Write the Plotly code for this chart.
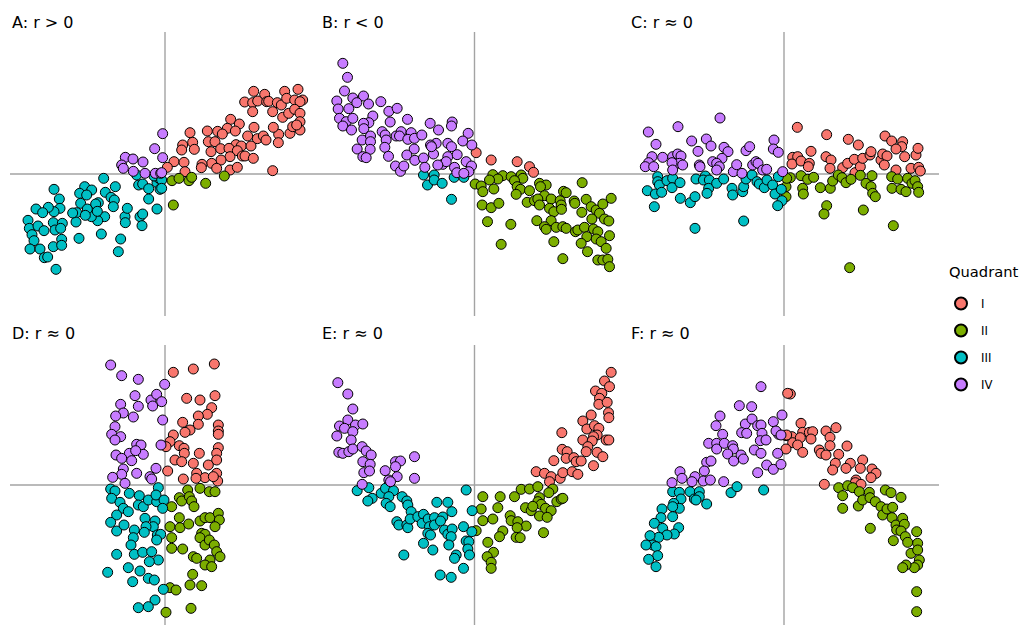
import plotly.graph_objects as go

W, H = 1026, 625

# ---- data: (x, y) values per panel, centred on the panel means ----
A_pts = [
    (266,248),(299,239),(359,248),(399,254),(239,216),(263,214),(278,219),(305,217),(311,218),(337,214),
    (349,207),(365,227),(389,222),(413,222),(405,217),(263,187),(323,187),(353,170),(371,182),(389,194),
    (405,182),(405,157),(405,132),(375,122),(383,142),(395,147),(341,119),(325,140),(340,94),(197,164),
    (223,150),(187,137),(127,129),(158,128),(75,124),(172,120),(211,129),(267,140),(248,114),(277,106),
    (295,114),(303,102),(130,97),(150,97),(213,88),(229,84),(258,84),(83,95),(53,87),(88,74),(50,72),
    (138,67),(167,76),(192,77),(217,70),(232,54),(240,54),(265,47),(195,52),(168,42),(140,32),(111,29),
    (109,19),(155,17),(195,12),(217,20),(27,37),(57,35),(7,20),(60,7),(323,10),
    (21,-20),(42,-13),(72,-20),(80,-10),(122,-28),(178,-6),(25,-93),
    (-184,-13),(-333,-46),(-241,-38),(-220,-48),(-256,-58),(-149,-38),(-179,-55),(-79,-33),(-67,-30),
    (-49,-44),(-24,-26),(-15,-46),(-18,-13),(-33,-6),(-85,-3),(-49,-75),(-24,-105),(-75,-128),(-67,-120),
    (-69,-155),(-120,-128),(-119,-146),(-113,-103),(-162,-70),(-152,-78),(-155,-98),(-181,-128),
    (-202,-140),(-200,-86),(-229,-108),(-221,-128),(-253,-88),(-265,-116),(-267,-144),(-277,-117),
    (-258,-193),(-191,-180),(-133,-195),(-140,-233),(-233,-105),(-239,-124),(-317,-75),(-315,-103),
    (-333,-113),(-350,-100),(-387,-105),(-367,-116),(-411,-139),(-407,-163),(-381,-156),(-335,-146),
    (-330,-168),(-308,-148),(-313,-163),(-363,-170),(-399,-182),(-393,-200),(-405,-225),(-375,-225),
    (-335,-218),(-310,-196),(-310,-214),(-362,-251),(-352,-249),(-327,-286),(-208,-90),(-203,-112),
    (-235,-63),(-10,-18),(-10,-43),
    (-7,121),(-31,76),(-7,49),(-119,50),(-96,45),(-66,36),(-130,27),(-125,17),(-95,8),(-60,2),
    (-29,2),(-13,2),(-10,4),
]

B_pts = [
    (5,64),(50,42),(128,37),(165,22),(177,5),
    (55,-2),(85,-5),(110,-8),(140,-3),(145,-13),(120,-20),(70,-15),(45,-18),(2,-30),(20,-36),(25,-53),
    (58,-45),(128,-38),(138,-46),(165,-50),(125,-61),(158,-85),(180,-80),(195,-28),(215,-33),(198,-38),
    (210,-65),(190,-75),(195,-93),(230,-75),(225,-103),(238,-113),(257,-80),(260,-93),(261,-106),
    (267,-52),(275,-56),(299,-81),(301,-88),(323,-26),(335,-76),(350,-98),(365,-108),(375,-118),
    (385,-90),(410,-73),(322,-115),(352,-135),(390,-135),(403,-141),(23,-93),(50,-101),(73,-88),
    (39,-143),(109,-151),(187,-140),(230,-140),(210,-158),(215,-166),(245,-160),(265,-158),(275,-163),
    (303,-173),(310,-168),(330,-160),(357,-165),(370,-173),(337,-188),(365,-195),(380,-203),(405,-185),
    (395,-223),(238,-203),(320,-208),(339,-233),(80,-211),(265,-254),(370,-258),(385,-258),(400,-256),
    (405,-278),
    (-153,-3),(-121,-3),(-141,-33),(-121,-18),(-97,-28),(-61,-10),(-32,-10),(-69,-76),
    (-395,332),(-381,290),(-390,249),(-413,219),(-365,228),(-333,234),(-318,210),(-353,214),(-377,196),
    (-409,195),(-405,167),(-385,157),(-365,167),(-395,144),(-369,132),(-305,174),(-317,154),(-333,152),
    (-332,136),(-281,217),(-257,188),(-232,197),(-253,156),(-201,164),(-337,102),(-312,114),(-312,97),
    (-313,74),(-352,75),(-335,52),(-325,49),(-277,127),(-268,117),(-265,102),(-235,114),(-220,127),
    (-225,114),(-190,124),(-200,104),(-180,107),(-158,117),(-133,152),(-108,132),(-67,156),(-69,144),
    (-19,122),(-35,99),(-8,87),(-80,92),(-69,82),(-115,92),(-132,87),(-123,60),(-129,82),(-181,75),
    (-203,57),(-179,41),(-153,48),(-149,20),(-269,80),(-258,53),(-237,24),(-222,8),(-212,24),(-95,29),
    (-80,52),(-52,58),(-60,20),(-53,4),(-25,37),(-9,24),(-17,7),(-32,2),(-85,37),(-110,27),
]

C_pts = [
    (40,140),(128,118),(193,104),(223,87),(303,114),(323,99),(356,97),(353,82),(336,75),(362,52),
    (396,57),(402,77),(81,68),(126,52),(141,42),(26,50),(41,52),(24,30),(51,39),(76,32),(73,22),
    (138,17),(176,19),(191,32),(211,44),(213,4),(229,22),(236,47),(258,57),(261,67),(291,42),(296,60),
    (309,54),(301,27),(336,12),(381,17),(404,20),(409,9),
    (19,-11),(51,-5),(56,-43),(58,-60),(71,-16),(89,-10),(6,-38),(6,-68),(109,-41),(139,-43),(146,-21),
    (163,-3),(174,-11),(186,-26),(201,-16),(229,-4),(246,-28),(264,-5),(261,-38),(266,-58),(274,-68),
    (128,-95),(120,-120),(238,-108),(328,-155),(197,-281),(323,-8),(324,-43),(341,-15),(351,-46),
    (366,-53),(371,-13),(384,-28),(393,-20),(401,-38),(404,-55),(8,-13),
    (-379,-8),(-379,-23),(-374,-33),(-351,-20),(-334,-13),(-336,-41),(-312,-26),(-410,-50),(-386,-60),
    (-367,-55),(-389,-98),(-311,-73),(-281,-86),(-267,-68),(-267,-163),(-264,-15),(-236,-6),(-242,-18),
    (-224,-18),(-226,-43),(-231,-58),(-202,-28),(-181,-15),(-156,-43),(-154,-63),(-124,-53),(-121,-38),
    (-121,-141),(-114,-15),(-96,-3),(-81,-23),(-74,-30),(-59,-41),(-51,-18),(-34,-33),(-27,-60),
    (-17,-8),(-8,-46),(-6,-80),(-19,-95),
    (-407,126),(-318,142),(-192,168),(-384,89),(-277,99),(-233,105),(-219,84),(-258,68),(-180,80),
    (-168,67),(-186,47),(-114,70),(-103,82),(-30,102),(-32,75),(-17,65),(-396,52),(-364,50),(-406,34),
    (-416,22),(-391,22),(-334,52),(-319,60),(-309,54),(-314,32),(-304,27),(-336,34),(-334,12),(-254,27),
    (-252,22),(-214,37),(-202,32),(-194,22),(-202,12),(-152,7),(-142,28),(-126,2),(-94,27),(-84,37),
    (-78,32),(-64,12),(-52,14),(-4,7),
]

D_pts = [
    (25,338),(85,348),(148,363),(65,260),(105,255),(150,268),(140,232),(127,212),(100,207),(100,182),
    (75,165),(60,158),(53,188),(160,180),(160,162),(160,152),(25,150),(15,130),(3,115),(43,118),
    (57,110),(58,95),(30,75),(50,70),(103,95),(160,112),(155,95),(155,75),(130,60),(85,65),(95,35),
    (120,22),(155,35),(158,12),(145,25),(93,20),(55,18),(8,42),
    (20,-65),(43,-38),(50,-48),(68,-15),(73,-35),(80,-48),(87,-65),(105,-10),(133,-20),(150,-20),
    (15,-125),(43,-98),(45,-128),(71,-117),(105,-108),(120,-98),(135,-98),(160,-85),(163,-105),
    (150,-125),(110,-145),(120,-148),(105,-158),(120,-180),(133,-165),(148,-180),(155,-200),(165,-215),
    (135,-225),(120,-240),(140,-245),(85,-215),(95,-220),(20,-158),(20,-190),(53,-192),(83,-268),
    (75,-300),(110,-302),(15,-308),(33,-315),(3,-382),(78,-370),
    (-163,-12),(-150,-18),(-160,-40),(-135,-52),(-125,-70),(-107,-25),(-77,-32),(-80,-60),(-65,-65),
    (-50,-45),(-25,-50),(-20,-8),(-27,-30),(-3,-45),(-7,-70),(-145,-90),(-163,-112),(-145,-138),
    (-123,-120),(-110,-80),(-60,-100),(-30,-108),(-35,-125),(-57,-125),(-62,-142),(-92,-135),(-95,-158),
    (-102,-180),(-23,-150),(-13,-148),(-25,-165),(-145,-208),(-92,-208),(-67,-202),(-40,-200),
    (-20,-225),(-47,-230),(-75,-258),(-110,-248),(-97,-290),(-172,-262),(-50,-280),(-32,-285),
    (-5,-313),(-30,-345),(-50,-365),(-80,-368),
    (-163,360),(-130,328),(-80,317),(-1,302),(-90,268),(-42,255),(-25,272),(-10,250),(-37,237),
    (-133,242),(-80,236),(-125,216),(-148,207),(-95,204),(-7,195),(-150,175),(-160,152),(-133,145),
    (-150,135),(-85,122),(-72,120),(-65,92),(-12,120),(-147,90),(-107,95),(-130,80),(-100,73),(-88,103),
    (-27,50),(-125,48),(-130,32),(-85,35),(-120,5),(-157,23),(-45,25),(-40,18),
]

E_pts = [
    (410,338),(390,312),(405,295),(363,282),(382,275),(375,260),(373,242),(398,248),(402,217),(403,202),
    (350,210),(325,192),(337,168),(360,178),(373,170),(368,150),(357,145),(395,135),(403,135),(325,135),
    (353,132),(340,115),(335,100),(368,98),(385,85),(262,157),(263,107),(278,100),(275,80),(298,82),
    (305,70),(320,72),(238,73),(357,58),(185,40),(210,35),(230,25),(225,10),(257,20),(265,37),(293,40),
    (310,32),
    (25,-35),(77,-35),(120,-35),(140,-13),(165,-12),(190,-5),(235,-12),(223,-23),(195,-38),(190,-50),
    (200,-58),(213,-70),(230,-77),(247,-50),(260,-42),(265,-40),(20,-72),(70,-68),(153,-68),(170,-77),
    (175,-64),(25,-107),(55,-102),(107,-92),(110,-107),(130,-110),(155,-123),(128,-128),(195,-93),
    (218,-97),(5,-137),(85,-138),(75,-155),(125,-157),(137,-158),(207,-143),(40,-172),(57,-202),
    (38,-215),(50,-232),(50,-250),
    (-352,-17),(-317,-8),(-307,-40),(-320,-48),(-280,-25),(-267,-10),(-243,-17),(-257,-35),(-265,-55),
    (-253,-65),(-217,-35),(-203,-48),(-200,-60),(-190,-80),(-233,-110),(-227,-120),(-203,-120),
    (-200,-128),(-193,-102),(-170,-95),(-153,-88),(-157,-115),(-139,-102),(-120,-98),(-95,-96),
    (-113,-52),(-80,-52),(-68,-80),(-135,-125),(-120,-120),(-102,-108),(-140,-145),(-132,-150),
    (-153,-175),(-125,-195),(-90,-135),(-80,-148),(-67,-132),(-70,-155),(-77,-180),(-33,-125),
    (-25,-168),(-17,-170),(-20,-192),(-15,-210),(-55,-210),(-60,-220),(-33,-250),(-103,-270),
    (-70,-277),(-212,-210),(-25,-15),(-7,-77),(-8,-140),
    (-410,307),(-380,273),(-365,228),(-380,195),(-405,177),(-390,170),(-357,180),(-335,183),(-365,160),
    (-413,147),(-370,135),(-407,98),(-395,95),(-377,100),(-365,108),(-337,115),(-325,102),(-310,90),
    (-335,70),(-313,62),(-332,37),(-315,42),(-268,43),(-237,70),(-222,72),(-237,55),(-232,25),
    (-257,15),(-252,10),(-180,85),(-180,20),(-337,2),
]

F_pts = [
    (19,273),(51,185),(56,158),(76,158),(86,160),(126,162),(156,172),(138,143),(138,118),(24,145),
    (6,148),(26,127),(49,142),(81,138),(41,120),(56,98),(6,108),(106,105),(111,95),(126,90),(164,92),
    (189,117),(199,65),(186,50),(154,65),(146,45),(236,75),(229,50),(264,48),(276,35),(261,22),(216,15),
    (214,7),(231,2),(121,2),(11,275),(8,150),
    (164,-8),(191,-2),(206,-8),(226,-20),(256,-22),(176,-32),(176,-70),(223,-63),(236,-45),(258,-38),
    (274,-50),(304,-15),(321,-23),(351,-37),(291,-65),(296,-90),(309,-72),(326,-67),(324,-98),
    (259,-130),(336,-120),(356,-100),(361,-118),(338,-135),(351,-138),(364,-155),(398,-140),(328,-167),
    (371,-172),(401,-175),(381,-205),(401,-195),(406,-225),(401,-240),(391,-248),(366,-240),(356,-248),
    (398,-320),(398,-380),
    (-159,-23),(-141,-5),(-61,-15),(-334,-20),(-314,-22),(-309,-42),(-331,-55),(-314,-70),(-282,-20),
    (-269,-42),(-254,-20),(-254,-35),(-232,-57),(-264,-45),(-366,-72),(-369,-98),(-334,-65),(-334,-95),
    (-389,-115),(-364,-130),(-316,-128),(-329,-147),(-351,-150),(-376,-157),(-402,-152),(-394,-180),
    (-414,-180),(-384,-185),(-379,-212),(-406,-223),(-384,-245),
    (-69,295),(-134,238),(-97,235),(-192,207),(-204,178),(-184,152),(-226,125),(-202,125),(-202,108),
    (-179,125),(-154,118),(-152,108),(-169,93),(-151,72),(-129,90),(-122,78),(-116,183),(-127,157),
    (-112,155),(-96,198),(-79,178),(-69,180),(-66,155),(-71,133),(-54,135),(-32,190),(-16,152),
    (-6,210),(-24,162),(-89,105),(-69,95),(-19,95),(-52,60),(-32,47),(-9,62),(-79,37),(-181,10),
    (-232,68),(-219,72),(-239,42),(-312,40),(-306,20),(-267,25),(-276,10),(-242,12),(-221,15),
    (-336,7),(-9,150),
]

titles = ["A: r > 0", "B: r < 0", "C: r \u2248 0", "D: r \u2248 0", "E: r \u2248 0", "F: r \u2248 0"]
panels = [A_pts, B_pts, C_pts, D_pts, E_pts, F_pts]
quadrants = ["I", "II", "III", "IV"]
quad_colors = {"I": "#F8766D", "II": "#7CAE00", "III": "#00BFC4", "IV": "#C77CFF"}
legend_title = "Quadrant"

# ---- layout geometry (pixels) ----
col_px = [(10, 320), (320, 629), (629, 939)]
row_px = [(32, 316), (345, 625)]
title_cy = [22, 333]
UNIT = 3.0  # data units per pixel

FONT = "DejaVu Sans, Verdana, sans-serif"


def quadrant(x, y):
    if x >= 0 and y >= 0:
        return "I"
    if x >= 0:
        return "II"
    if y < 0:
        return "III"
    return "IV"


fig = go.Figure()
layout_axes = {}
shapes = []
annotations = []

for i, (pts, title) in enumerate(zip(panels, titles)):
    r, c = divmod(i, 3)
    k = "" if i == 0 else str(i + 1)
    x0, x1 = col_px[c]
    y0, y1 = row_px[r]
    hx = (x1 - x0) / 2 * UNIT
    hy = (y1 - y0) / 2 * UNIT
    layout_axes["xaxis" + k] = dict(domain=[x0 / W, x1 / W], range=[-hx, hx], visible=False,
                                    fixedrange=True, anchor="y" + k)
    layout_axes["yaxis" + k] = dict(domain=[1 - y1 / H, 1 - y0 / H], range=[-hy, hy], visible=False,
                                    fixedrange=True, anchor="x" + k)
    shapes.append(dict(type="line", xref="x" + k, yref="y" + k + " domain", x0=0, x1=0, y0=0, y1=1,
                       line=dict(color="#A3A3A3", width=1.4), layer="below"))
    shapes.append(dict(type="line", xref="x" + k + " domain", yref="y" + k, x0=0, x1=1, y0=0, y1=0,
                       line=dict(color="#A3A3A3", width=1.4), layer="below"))
    annotations.append(dict(text=title, xref="paper", yref="paper", x=x0 / W, y=1 - title_cy[r] / H,
                            xanchor="left", yanchor="middle", showarrow=False,
                            font=dict(family=FONT, size=16, color="black")))
    for q in quadrants:
        sel = [(x, y) for x, y in pts if quadrant(x, y) == q]
        fig.add_trace(go.Scatter(
            x=[p[0] for p in sel], y=[p[1] for p in sel], mode="markers",
            marker=dict(size=10, color=quad_colors[q], line=dict(color="black", width=1)),
            name=q, legendgroup=q, showlegend=(i == 0),
            xaxis="x" + k, yaxis="y" + k, hoverinfo="skip"))

annotations.append(dict(text=legend_title, xref="paper", yref="paper", x=947 / W, y=1 - 271 / H,
                        xanchor="left", yanchor="middle", showarrow=False,
                        font=dict(family=FONT, size=14.7, color="black")))

fig.update_layout(
    width=W, height=H,
    margin=dict(l=0, r=0, t=0, b=0),
    paper_bgcolor="white", plot_bgcolor="white",
    shapes=shapes, annotations=annotations,
    font=dict(family=FONT, color="black"),
    legend=dict(font=dict(size=11.7, family=FONT),
                x=941 / W, y=1 - 289 / H, xanchor="left", yanchor="top",
                tracegroupgap=8, bgcolor="rgba(0,0,0,0)", itemsizing="constant"),
    **layout_axes,
)

fig.write_html("out.html")
